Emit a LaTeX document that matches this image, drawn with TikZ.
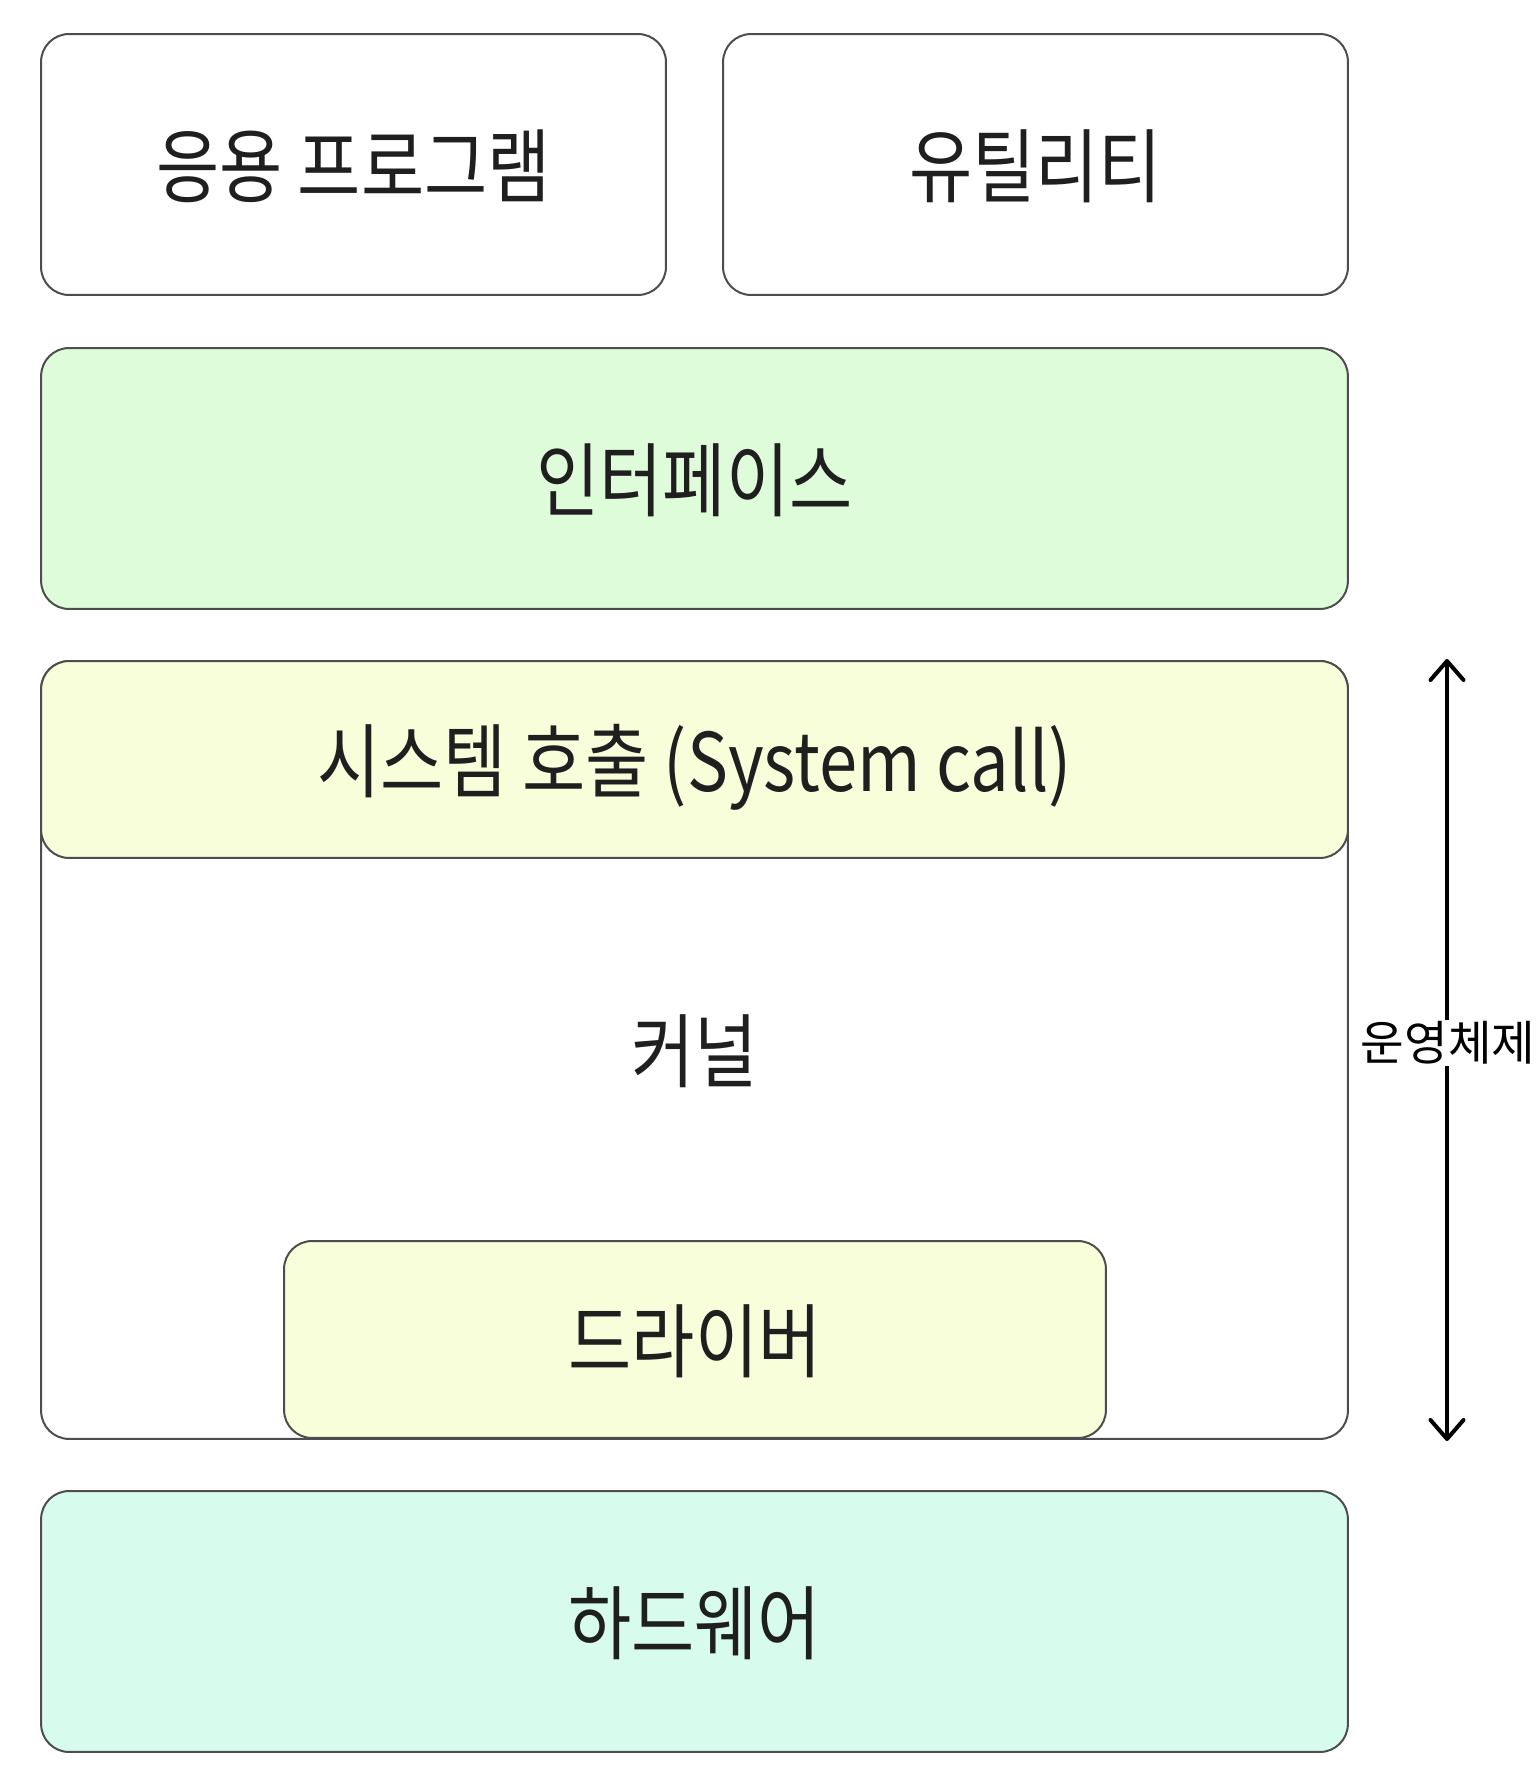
\documentclass[tikz,border=0pt]{standalone}
\usepackage{fontspec}
\setmainfont{Noto Sans CJK KR}
\newfontfamily\layerfont[FakeStretch=0.85]{Noto Sans CJK KR}
\usetikzlibrary{arrows.meta}

\definecolor{ifacegreen}{HTML}{DFFCDA}
\definecolor{callyellow}{HTML}{F8FDDA}
\definecolor{hwmint}{HTML}{D7FCEE}
\definecolor{edgegray}{HTML}{4D4D4D}

\begin{document}
\begin{tikzpicture}[x=0.02cm,y=-0.02cm,
  layer/.style={draw=edgegray,line width=0.04cm,rounded corners=0.56cm,
    minimum height=5.22cm,text=black!88,text depth=2pt,
    font=\layerfont\fontsize{46}{54}\selectfont},
  span/.style={line width=0.08cm,{Straight Barb[round,length=0.38cm,width=0.66cm]}-{Straight Barb[round,length=0.38cm,width=0.66cm]}}]
  \useasboundingbox (0,0) rectangle (1539,1788);

  % top row
  \node[layer,minimum width=12.5cm] (app) at (353.5,164.5) {응용 프로그램};
  \node[layer,minimum width=12.5cm] (util) at (1035.5,164.5) {유틸리티};

  \node[layer,fill=ifacegreen,minimum width=26.14cm] (iface) at (694.5,478.5) {인터페이스};

  % kernel block
  \node[layer,minimum width=26.14cm,minimum height=15.56cm] (kernel) at (694.5,1050) {커널};
  \node[layer,fill=callyellow,minimum width=26.14cm,minimum height=3.94cm] (syscall) at (694.5,759.5) {시스템 호출 (System call)};
  \node[layer,fill=callyellow,minimum width=16.44cm,minimum height=3.94cm] (driver) at (695,1339.5) {드라이버};

  \node[layer,fill=hwmint,minimum width=26.14cm] (hw) at (694.5,1621.5) {하드웨어};

  % os span
  \coordinate (ostop) at (1447,659);
  \coordinate (osbot) at (1447,1441);
  \draw[span] (ostop) -- (osbot);
  \node[fill=white,inner xsep=0pt,inner ysep=1pt,font=\fontsize{27}{30}\selectfont] (os) at (1448,1043) {운영체제};
\end{tikzpicture}
\end{document}
